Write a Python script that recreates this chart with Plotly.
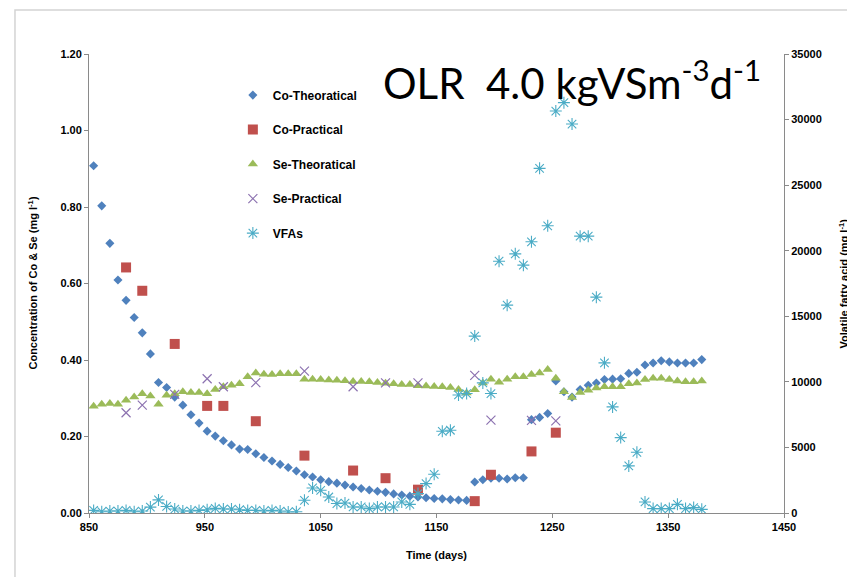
import plotly.graph_objects as go

# Sampling days for the weekly theoretical series and VFA measurements
days = [854 + 7 * i for i in range(76)]

co_theoretical = [
    0.908, 0.803, 0.705, 0.609, 0.556, 0.511, 0.471, 0.416, 0.341, 0.328,
    0.303, 0.282, 0.257, 0.235, 0.214, 0.201, 0.189, 0.178, 0.167, 0.166,
    0.155, 0.145, 0.136, 0.127, 0.119, 0.110, 0.100, 0.094, 0.087, 0.082,
    0.078, 0.073, 0.068, 0.064, 0.060, 0.057, 0.054, 0.050, 0.047, 0.044,
    0.042, 0.040, 0.038, 0.037, 0.035, 0.034, 0.033, 0.081, 0.087, 0.091,
    0.091, 0.089, 0.092, 0.092, 0.244, 0.250, 0.260, 0.345, 0.317, 0.303,
    0.323, 0.334, 0.340, 0.349, 0.350, 0.351, 0.365, 0.368, 0.387, 0.392,
    0.398, 0.395, 0.392, 0.392, 0.392, 0.401,
]

se_theoretical = [
    0.279, 0.284, 0.286, 0.284, 0.295, 0.303, 0.312, 0.306, 0.284, 0.308,
    0.312, 0.317, 0.315, 0.315, 0.312, 0.323, 0.330, 0.334, 0.338, 0.356,
    0.366, 0.363, 0.362, 0.364, 0.364, 0.364, 0.350, 0.350, 0.349, 0.348,
    0.347, 0.346, 0.344, 0.344, 0.343, 0.341, 0.339, 0.338, 0.336, 0.336,
    0.333, 0.332, 0.331, 0.330, 0.328, 0.323, 0.314, 0.322, 0.340, 0.350,
    0.342, 0.350, 0.356, 0.356, 0.362, 0.366, 0.375, 0.352, 0.317, 0.302,
    0.315, 0.321, 0.327, 0.330, 0.330, 0.330, 0.338, 0.340, 0.349, 0.352,
    0.352, 0.349, 0.345, 0.343, 0.343, 0.345,
]

vfa = [
    200, 100, 150, 150, 200, 100, 150, 450, 1000, 500,
    300, 150, 150, 200, 250, 350, 300, 300, 250, 200,
    200, 150, 200, 150, 80, 100, 970, 1910, 1730, 1220,
    720, 760, 460, 460, 335, 460, 460, 460, 840, 660,
    1480, 2240, 2950, 6230, 6310, 9000, 9110, 13490, 9920, 9110,
    19200, 15850, 19760, 18900, 20680, 26280, 21900, 30650, 31290, 29660,
    21110, 21110, 16460, 11450, 8090, 5750, 3590, 4630, 840, 335,
    335, 335, 660, 335, 410, 280,
]

# Laboratory measurements
practical_days = [882, 896, 924, 952, 966, 994, 1036, 1078, 1106, 1134, 1183, 1197, 1232, 1253]
co_practical = [0.642, 0.581, 0.442, 0.280, 0.280, 0.240, 0.150, 0.111, 0.091, 0.061, 0.031, 0.100, 0.161, 0.210]
se_practical = [0.262, 0.282, 0.310, 0.351, 0.330, 0.341, 0.371, 0.330, 0.340, 0.340, 0.360, 0.243, 0.242, 0.241]

x_ticks = [850, 950, 1050, 1150, 1250, 1350, 1450]
left_ticks = [0.0, 0.2, 0.4, 0.6, 0.8, 1.0, 1.2]
right_ticks = [0, 5000, 10000, 15000, 20000, 25000, 30000, 35000]

BLUE = "#4F81BD"
RED = "#C0504D"
GREEN = "#9BBB59"
PURPLE = "#8C72B0"
CYAN = "#4BACC6"
AXIS = "#8A8A8A"
FONT = "Liberation Sans, Arial, sans-serif"

fig = go.Figure()

fig.add_trace(go.Scatter(
    x=days, y=co_theoretical, name="Co-Theoratical", mode="markers",
    legendgroup="a",
    marker=dict(symbol="diamond", size=7, color=BLUE),
))
fig.add_trace(go.Scatter(
    x=practical_days, y=co_practical, name="Co-Practical", mode="markers",
    legendgroup="b",
    marker=dict(symbol="square", size=10, color=RED),
))
fig.add_trace(go.Scatter(
    x=days, y=se_theoretical, name="Se-Theoratical", mode="markers",
    legendgroup="c",
    marker=dict(symbol="triangle-up", size=9, color=GREEN),
))
fig.add_trace(go.Scatter(
    x=practical_days, y=se_practical, name="Se-Practical", mode="markers",
    legendgroup="d",
    marker=dict(symbol="x-thin-open", size=9, color=PURPLE, line=dict(width=1.2, color=PURPLE)),
))
fig.add_trace(go.Scatter(
    x=days, y=vfa, name="VFAs", mode="markers", yaxis="y2",
    legendgroup="e",
    marker=dict(symbol="asterisk-open", size=10, color=CYAN, line=dict(width=1.1, color=CYAN)),
))

tick_font = dict(family=FONT, size=11, color="#000000", weight="bold")

fig.update_layout(
    width=847, height=577, autosize=False,
    margin=dict(l=89, r=63, t=54, b=64),
    paper_bgcolor="white", plot_bgcolor="white",
    showlegend=True,
    legend=dict(
        x=0.207, y=0.942, xanchor="left", yanchor="top",
        font=dict(family=FONT, size=12, color="#000000", weight="bold"),
        tracegroupgap=15.5, itemwidth=30, bgcolor="rgba(0,0,0,0)",
    ),
    xaxis=dict(
        range=[850, 1450], tickvals=x_ticks, ticktext=[str(v) for v in x_ticks],
        showgrid=False, zeroline=False, showline=True, linecolor=AXIS, linewidth=1,
        ticks="outside", ticklen=4, tickcolor=AXIS, tickfont=tick_font,
    ),
    yaxis=dict(
        range=[0, 1.2], tickvals=left_ticks, ticktext=[f"{v:.2f}" for v in left_ticks],
        showgrid=False, zeroline=False, showline=True, linecolor=AXIS, linewidth=1,
        ticks="outside", ticklen=4, tickcolor=AXIS, tickfont=tick_font,
    ),
    yaxis2=dict(
        range=[0, 35000], tickvals=right_ticks, ticktext=[str(v) for v in right_ticks],
        overlaying="y", side="right",
        showgrid=False, zeroline=False, showline=True, linecolor=AXIS, linewidth=1,
        ticks="outside", ticklen=4, tickcolor=AXIS, tickfont=tick_font,
    ),
)

# Outer chart border (top and left edges visible)
fig.add_shape(
    type="rect", xref="paper", yref="paper",
    x0=-0.1065, x1=1.25, y0=-0.25, y1=1.096,
    line=dict(color="#D4D4D4", width=1.5), fillcolor="rgba(0,0,0,0)", layer="below",
)

title_font = dict(family=FONT, size=11, color="#000000", weight="bold")
fig.add_annotation(
    text="Time (days)", xref="paper", yref="paper", x=0.5, y=-0.092,
    xanchor="center", yanchor="middle", showarrow=False, font=title_font,
)
fig.add_annotation(
    text="Concentration of Co &amp; Se (mg l<sup>-1</sup>)", xref="paper", yref="paper",
    x=-0.082, y=0.5, xanchor="center", yanchor="middle", textangle=-90,
    showarrow=False, font=title_font,
)
fig.add_annotation(
    text="Volatile fatty acid (mg l<sup>-1</sup>)", xref="paper", yref="paper",
    x=1.085, y=0.5, xanchor="center", yanchor="middle", textangle=-90,
    showarrow=False, font=title_font,
)
fig.add_annotation(
    text="OLR  4.0 kgVSm<sup>-3</sup>d<sup>-1</sup>", xref="paper", yref="paper",
    x=0.42, y=0.877, xanchor="left", yanchor="bottom",
    showarrow=False, font=dict(family="Lato, Open Sans, sans-serif", size=42, color="#000000"),
)

fig.write_html("out.html")
